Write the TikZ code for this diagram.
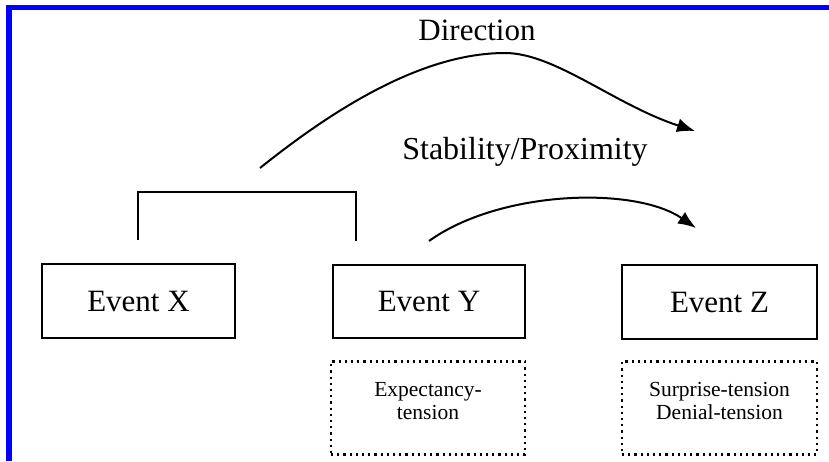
\documentclass[tikz,border=0pt]{standalone}
\usepackage{fontspec}
\setmainfont{Liberation Serif}
\usetikzlibrary{arrows.meta}
\usetikzlibrary{scopes}

\begin{document}
\begin{tikzpicture}[
    x=0.5pt,y=-0.5pt,
    eventbox/.style={rectangle,draw,line width=1.2pt,font=\fontsize{15.5}{18}\selectfont},
    tensionbox/.style={rectangle,draw,dotted,line width=1.1pt},
    notetext/.style={align=center,font=\fontsize{10.75}{11.5}\selectfont},
    heading/.style={font=\fontsize{15.5}{18}\selectfont},
    flow/.style={line width=1pt,-{Latex[length=9pt,width=7pt]}},
    bracket/.style={line width=1.2pt},
    border/.style={fill=blue},
]
    \useasboundingbox (0,0) rectangle (829,461);
    \fill[border] (6,5) rectangle (829,10);
    \fill[border] (6,5) rectangle (12,461);

    % Events
    \node[eventbox,minimum width=96.5pt,minimum height=37pt] (ex) at (138.5,301) {Event X};
    \node[eventbox,minimum width=96pt,minimum height=36.5pt] (ey) at (429,301.5) {Event Y};
    \node[eventbox,minimum width=97.5pt,minimum height=37pt] (ez) at (719.5,302) {Event Z};

    % Tension boxes
    \node[tensionbox,minimum width=97pt,minimum height=46.5pt] (dy) at (428,408) {};
    \node[tensionbox,minimum width=97.5pt,minimum height=46.5pt] (dz) at (719.5,408) {};
    \node[notetext] (ty) at (428,401) {Expectancy-\\tension};
    \node[notetext] (tz) at (719.5,401) {Surprise-tension\\Denial-tension};

    % Bracket over X and Y
    \coordinate (bx) at (138,240);
    \coordinate (by) at (356,241);
    \draw[bracket] (bx) |- (356,192) -- (by);

    % Arrows
    \node[heading] (dir) at (477,30) {Direction};
    \node[heading,font=\fontsize{16}{18}\selectfont] (stab) at (525,152) {Stability/Proximity};
    \coordinate (d0) at (260,168);
    \coordinate (d1) at (695,131);
    \coordinate (s0) at (429,241);
    \coordinate (s1) at (696,228);
    {[flow]
        \draw (d0) .. controls (330,112) and (420,53) .. (505,53)
                   .. controls (555,53) and (615,105) .. (d1);
        \draw (s0) .. controls (500,190) and (635,186) .. (s1);
    }
\end{tikzpicture}
\end{document}
